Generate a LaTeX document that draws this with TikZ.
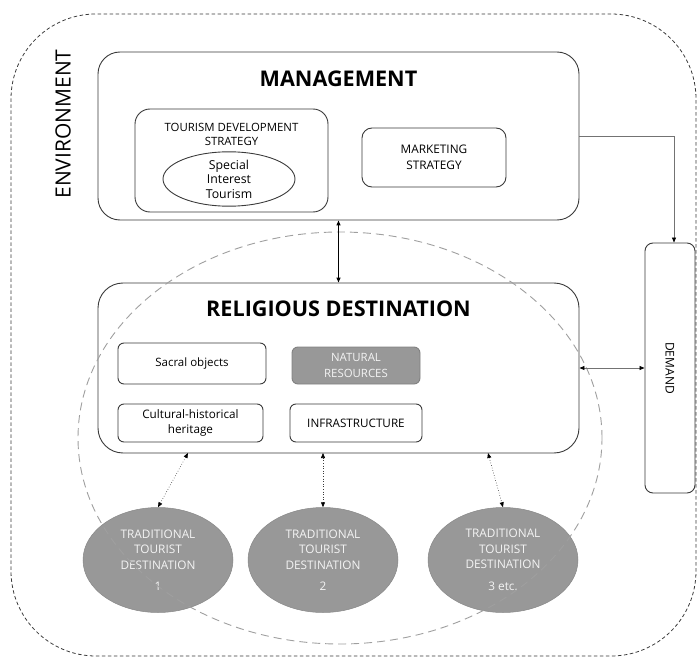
\documentclass[tikz,border=0pt]{standalone}
\usepackage{fontspec}
\setmainfont{Open Sans}
\usetikzlibrary{arrows.meta,shapes.geometric}
\definecolor{linec}{HTML}{3A3A3A}
\definecolor{grayfill}{HTML}{989898}
\definecolor{lighttext}{HTML}{F4F4F4}
\tikzset{
  box/.style={draw=linec, line width=0.9pt, rounded corners=#1, inner sep=0pt, align=center},
  box/.default=8pt,
  envbox/.style={draw=linec, line width=0.8pt, dash pattern=on 3.5pt off 2.5pt, rounded corners=85pt, minimum width=685pt, minimum height=642pt, inner sep=0pt},
  title/.style={font=\fontsize{21.6}{24}\selectfont\bfseries, inner sep=0pt},
  small/.style={font=\fontsize{11.4}{14}\selectfont, align=center, inner sep=0pt},
  trad/.style={ellipse, fill=grayfill, draw=grayfill!90!black, line width=0.5pt, minimum width=150pt, minimum height=105pt, inner sep=0pt, font=\fontsize{11.8}{15.5}\selectfont, text=lighttext, align=center},
  tip/.style={-{Triangle[length=5pt,width=4pt,color=black]}},
  dtip/.style={{Triangle[length=5pt,width=4pt,color=black]}-{Triangle[length=5pt,width=4pt,color=black]}},
}
\begin{document}
\begin{tikzpicture}[x=1pt,y=-1pt]
\useasboundingbox (0,0) rectangle (697,658);
% environment
\node[envbox] (env) at (353.5,335) {};
\node[rotate=90, font=\fontsize{21}{23}\selectfont, inner sep=0pt] (envlabel) at (63,124) {ENVIRONMENT};
% management
\node[box=22pt, minimum width=481pt, minimum height=168pt] (mgmt) at (338.5,136) {};
\node[title] (mgmttitle) at (338.5,79) {MANAGEMENT};
\node[box=15pt, minimum width=193pt, minimum height=103pt] (tds) at (231.5,160.5) {};
\node[small] (tdslabel) at (231.5,134) {TOURISM DEVELOPMENT\\STRATEGY};
\node[ellipse, draw=linec, line width=0.9pt, minimum width=132pt, minimum height=48pt, inner sep=0pt, font=\fontsize{12.3}{14.5}\selectfont, align=center] (sit) at (229,179) {Special\\Interest\\Tourism};
\node[box=10pt, minimum width=144pt, minimum height=59pt, font=\fontsize{11.8}{16}\selectfont] (mkt) at (434,157.5) {MARKETING\\STRATEGY};
% demand
\node[box=8pt, minimum width=50pt, minimum height=250pt] (demand) at (670,368) {};
\node[rotate=-90, font=\fontsize{12}{14}\selectfont, inner sep=0pt] (demandlabel) at (670,368) {DEMAND};
% religious destination
\node[box=25pt, minimum width=481pt, minimum height=170pt] (rd) at (338.5,368) {};
\node[title] (rdtitle) at (338.5,309) {RELIGIOUS DESTINATION};
\node[box=6pt, minimum width=148pt, minimum height=41pt, font=\fontsize{11.5}{15}\selectfont] (sacral) at (192,363.5) {Sacral objects};
\node[box=6pt, minimum width=128pt, minimum height=37pt, fill=grayfill, draw=grayfill!85!black, text=lighttext, font=\fontsize{11.4}{15.5}\selectfont] (natural) at (356,365.5) {NATURAL\\RESOURCES};
\node[box=6pt, minimum width=145pt, minimum height=38pt, font=\fontsize{11.7}{15.5}\selectfont] (cultural) at (190.5,423) {Cultural-historical\\heritage};
\node[box=6pt, minimum width=132pt, minimum height=38pt, font=\fontsize{11.7}{15}\selectfont] (infra) at (356,423) {INFRASTRUCTURE};
% traditional destinations
\node[trad] (t1) at (158,560) {TRADITIONAL\\TOURIST\\DESTINATION\\[6pt]1};
\node[trad] (t2) at (323,560) {TRADITIONAL\\TOURIST\\DESTINATION\\[6pt]2};
\node[trad] (t3) at (503,560) {TRADITIONAL\\TOURIST\\DESTINATION\\[6pt]3 etc.};
% big dashed ellipse
\draw[draw=gray!75, line width=0.9pt, dash pattern=on 8pt off 5pt] (340,438) ellipse [x radius=262pt, y radius=206pt];
% connectors
\draw[draw=gray!90!black, line width=0.7pt, tip] (mgmt.east) -| ([xshift=4pt]demand.north);
\draw[draw=black, line width=1.2pt, dtip] (mgmt.south) -- (rd.north);
\draw[draw=gray!90!black, line width=0.8pt, dtip] (rd.east) -- (demand.west |- rd.east);
\coordinate (a1) at (188,453);
\coordinate (a2) at (323,453);
\coordinate (a3) at (488,453);
\draw[draw=linec, line width=0.6pt, dotted, dtip] (a1) -- (t1.north);
\draw[draw=linec, line width=0.6pt, dotted, dtip] (a2) -- (t2.north);
\draw[draw=linec, line width=0.6pt, dotted, dtip] (a3) -- (t3.north);
\end{tikzpicture}
\end{document}
